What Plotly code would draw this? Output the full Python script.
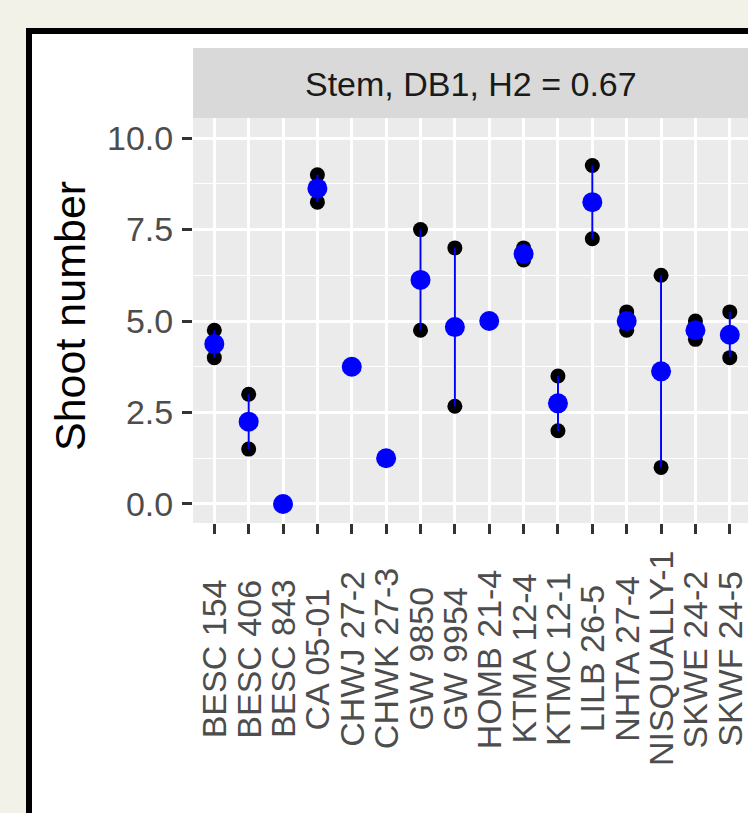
import plotly.graph_objects as go

# ---- data ----
clones = ["BESC 154", "BESC 406", "BESC 843", "CA 05-01", "CHWJ 27-2", "CHWK 27-3",
          "GW 9850", "GW 9954", "HOMB 21-4", "KTMA 12-4", "KTMC 12-1", "LILB 26-5",
          "NHTA 27-4", "NISQUALLY-1", "SKWE 24-2", "SKWF 24-5"]
obs1 = [4.75, 3.0, 0.0, 9.0, 3.75, 1.25, 7.5, 7.0, 5.0, 7.0, 3.5, 9.25, 5.25, 6.25, 5.0, 5.25]
obs2 = [4.0, 1.5, None, 8.25, None, None, 4.75, 2.67, None, 6.67, 2.0, 7.25, 4.75, 1.0, 4.5, 4.0]
y_ticks = [0.0, 2.5, 5.0, 7.5, 10.0]
y_ticktext = ["0.0", "2.5", "5.0", "7.5", "10.0"]
strip_title = "Stem, DB1, H2 = 0.67"
y_title = "Shoot number"

# ---- derived stats ----
means, lo, hi = [], [], []
for a, b in zip(obs1, obs2):
    vals = [v for v in (a, b) if v is not None]
    m = sum(vals) / len(vals)
    means.append(m)
    lo.append(m - min(vals))
    hi.append(max(vals) - m)

W, H = 748, 813
ML, MR, MT, MB = 193, 0, 118, 290
PW, PH = W - ML - MR, H - MT - MB

def px(x):
    return (x - ML) / PW

def py(y):
    return (H - MB - y) / PH

FONT = "Liberation Sans, Arial, sans-serif"

fig = go.Figure()
# individual observations
xs, ys = [], []
for c, a, b in zip(clones, obs1, obs2):
    for v in (a, b):
        if v is not None:
            xs.append(c)
            ys.append(v)
fig.add_trace(go.Scatter(x=xs, y=ys, mode="markers",
                         marker=dict(color="black", size=15, line=dict(width=0)),
                         showlegend=False, hoverinfo="skip"))
# means with range bars
fig.add_trace(go.Scatter(x=clones, y=means, mode="markers",
                         marker=dict(color="#0000FF", size=20, line=dict(width=0)),
                         error_y=dict(type="data", symmetric=False, array=hi, arrayminus=lo,
                                      color="#0000FF", thickness=2, width=0),
                         showlegend=False, hoverinfo="skip"))

shapes = [
    # facet strip
    dict(type="rect", xref="paper", yref="paper", x0=0, x1=1, y0=1, y1=py(48),
         fillcolor="#D9D9D9", line=dict(width=0), layer="below"),
    # cream surround
    dict(type="rect", xref="paper", yref="paper", x0=px(0), x1=px(W), y0=py(0), y1=py(28),
         fillcolor="#F3F2E8", line=dict(width=0)),
    dict(type="rect", xref="paper", yref="paper", x0=px(0), x1=px(26), y0=py(0), y1=py(H),
         fillcolor="#F3F2E8", line=dict(width=0)),
    # black frame
    dict(type="rect", xref="paper", yref="paper", x0=px(26), x1=px(W), y0=py(28), y1=py(34),
         fillcolor="black", line=dict(width=0)),
    dict(type="rect", xref="paper", yref="paper", x0=px(26), x1=px(32), y0=py(28), y1=py(H),
         fillcolor="black", line=dict(width=0)),
]

annotations = [
    dict(text=strip_title, xref="paper", yref="paper", x=0.5, y=py(84), showarrow=False,
         xanchor="center", yanchor="middle", font=dict(family=FONT, size=34, color="#1A1A1A")),
    dict(text=y_title, xref="paper", yref="paper", x=px(70), y=py(316), showarrow=False,
         textangle=-90, xanchor="center", yanchor="middle",
         font=dict(family=FONT, size=43, color="black")),
]
for c in clones:
    annotations.append(dict(text=c, xref="x", yref="paper", x=c, y=py(659), showarrow=False,
                            textangle=-90, xanchor="center", yanchor="middle",
                            font=dict(family=FONT, size=34, color="#4D4D4D")))

fig.update_layout(
    width=W, height=H,
    margin=dict(l=ML, r=MR, t=MT, b=MB, pad=0),
    paper_bgcolor="white", plot_bgcolor="#EBEBEB",
    font=dict(family=FONT),
    shapes=shapes, annotations=annotations,
    xaxis=dict(type="category", categoryorder="array", categoryarray=clones,
               range=[-0.62, 15.53], showticklabels=False,
               ticks="outside", ticklen=10, tickwidth=3, tickcolor="#333333",
               showgrid=True, gridcolor="white", gridwidth=2.7,
               zeroline=False, showline=False, fixedrange=True),
    yaxis=dict(range=[-0.52, 10.55], tickvals=y_ticks, ticktext=y_ticktext,
               ticks="outside", ticklen=10, tickwidth=3, tickcolor="#333333",
               tickfont=dict(family=FONT, size=34, color="#4D4D4D"),
               ticklabelstandoff=2,
               showgrid=True, gridcolor="white", gridwidth=2.7,
               minor=dict(dtick=1.25, tick0=0, showgrid=True, gridcolor="white", gridwidth=1.3, ticks=""),
               zeroline=False, showline=False, fixedrange=True),
)

fig.write_html("out.html", config={"displayModeBar": False},
               post_script="document.body.style.margin='0';document.body.style.overflow='hidden';")
